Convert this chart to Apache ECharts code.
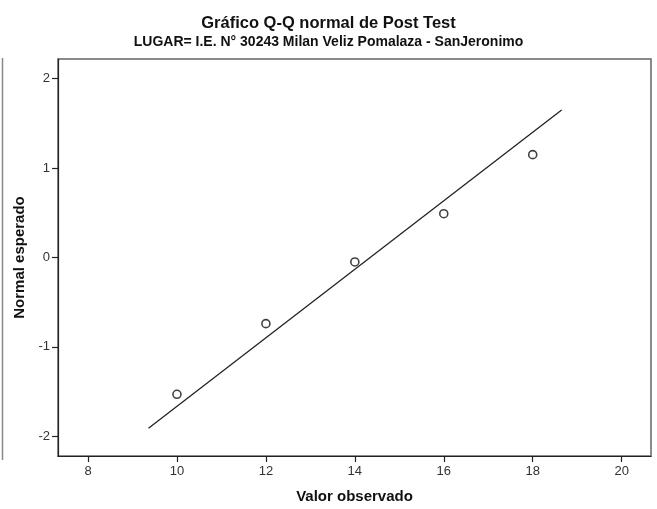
<!DOCTYPE html>
<html>
<head>
<meta charset="utf-8">
<script src="https://cdn.jsdelivr.net/npm/echarts@6/dist/echarts.min.js"></script>
<style>
  html, body { margin: 0; padding: 0; background: #fff; }
  #main { width: 657px; height: 509px; }
</style>
</head>
<body>
<div id="main"></div>
<script>
// datos del gráfico Q-Q
var valorObservado = [10, 12, 14, 16, 18];
var normalEsperado = [-1.53, -0.74, -0.05, 0.49, 1.15];
var lineaX = [9.36, 18.65];
var lineaY = [-1.91, 1.65];
var xTicks = [8, 10, 12, 14, 16, 18, 20];
var yTicks = [-2, -1, 0, 1, 2];

var puntos = valorObservado.map(function (v, i) { return [v, normalEsperado[i]]; });
var linea = lineaX.map(function (v, i) { return [v, lineaY[i]]; });

var chart = echarts.init(document.getElementById('main'));
var fuente = 'Liberation Sans, Arial, sans-serif';
var angosta = 'Liberation Sans Narrow, Arial Narrow, ' + fuente;

var option = {
  backgroundColor: '#fff',
  animation: false,
  title: [{
    text: 'Gráfico Q-Q normal de Post Test',
    left: 'center', top: 10,
    textStyle: { fontFamily: fuente, fontSize: 16.5, fontWeight: 'bold', color: '#111' }
  }, {
    text: 'LUGAR= I.E. N° 30243 Milan Veliz Pomalaza - SanJeronimo',
    left: 'center', top: 30,
    textStyle: { fontFamily: angosta, fontSize: 14, fontWeight: 'bold', color: '#111' }
  }],
  grid: {
    left: 58, top: 59, width: 593, height: 401,
    show: true, borderColor: '#666', borderWidth: 1.5, backgroundColor: '#fff'
  },
  xAxis: {
    type: 'value', min: 7.325, max: 20.66,
    name: 'Valor observado', nameLocation: 'middle', nameGap: 33,
    nameTextStyle: { fontFamily: fuente, fontSize: 15, fontWeight: 'bold', color: '#111' },
    axisLine: { show: true, onZero: false, lineStyle: { color: '#222', width: 1.2 } },
    axisTick: { show: true, length: 6, customValues: xTicks, lineStyle: { color: '#222', width: 1.2 } },
    axisLabel: { customValues: xTicks, margin: 9, fontFamily: angosta, fontSize: 13, color: '#333' },
    splitLine: { show: false }
  },
  yAxis: {
    type: 'value', min: -2.22, max: 2.22,
    name: 'Normal esperado', nameLocation: 'middle', nameGap: 29,
    nameTextStyle: { fontFamily: fuente, fontSize: 15, fontWeight: 'bold', color: '#111' },
    axisLine: { show: true, onZero: false, lineStyle: { color: '#222', width: 1.2 } },
    axisTick: { show: true, length: 6, customValues: yTicks, lineStyle: { color: '#222', width: 1.2 } },
    axisLabel: { customValues: yTicks, margin: 8, fontFamily: angosta, fontSize: 13, color: '#333' },
    splitLine: { show: false }
  },
  graphic: [{
    type: 'line', shape: { x1: 2.5, y1: 58, x2: 2.5, y2: 460 },
    style: { stroke: '#888', lineWidth: 1.5 }
  }],
  series: [{
    type: 'line', data: linea, symbol: 'none',
    lineStyle: { color: '#222', width: 1.3 }
  }, {
    type: 'scatter', data: puntos, symbol: 'circle', symbolSize: 8,
    itemStyle: { color: '#fff', borderColor: '#111', borderWidth: 1.6 }
  }]
};
chart.setOption(option);
</script>
</body>
</html>
